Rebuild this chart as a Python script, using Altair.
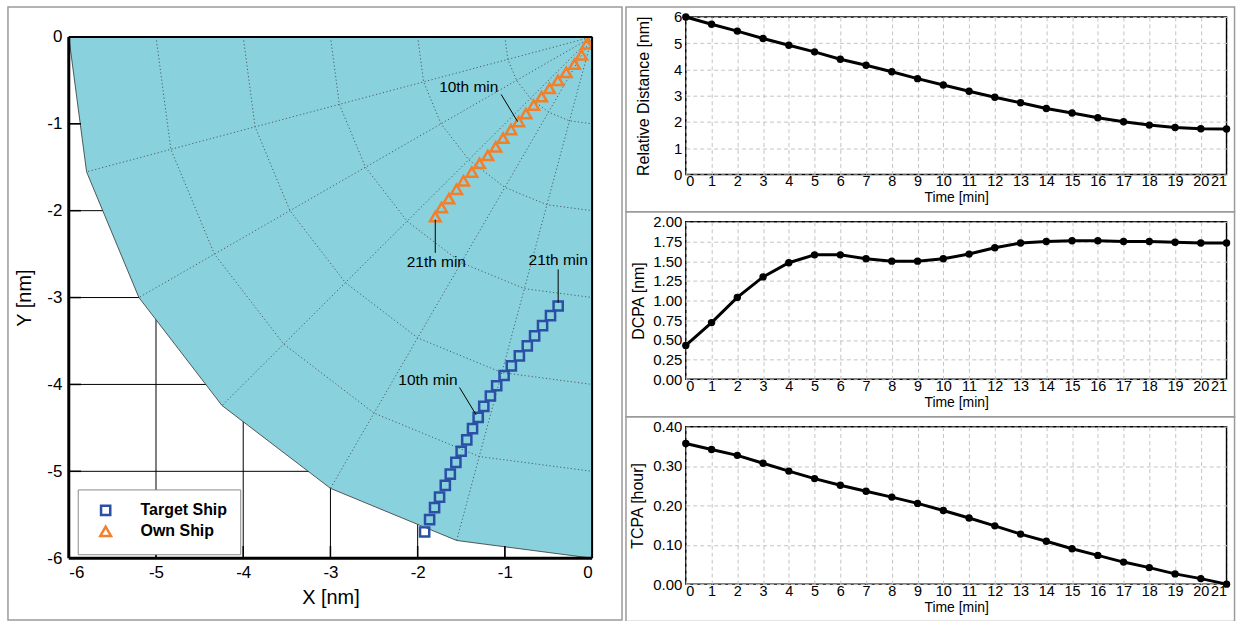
import math
import altair as alt
import pandas as pd

FONT = "Liberation Sans"

# ---------------- data ----------------
time_min = list(range(22))

target_x = [-1.920, -1.863, -1.806, -1.749, -1.683, -1.626, -1.562, -1.501, -1.437, -1.371, -1.306,
            -1.242, -1.166, -1.094, -1.009, -0.926, -0.834, -0.743, -0.659, -0.568, -0.477, -0.389]
target_y = [-5.698, -5.556, -5.418, -5.297, -5.162, -5.033, -4.898, -4.769, -4.638, -4.508, -4.379,
            -4.253, -4.133, -4.015, -3.897, -3.786, -3.671, -3.556, -3.442, -3.323, -3.209, -3.097]
own_x = [0.0, -0.061, -0.122, -0.202, -0.297, -0.392, -0.488, -0.579, -0.670, -0.758, -0.842,
         -0.930, -1.021, -1.105, -1.196, -1.291, -1.379, -1.474, -1.554, -1.642, -1.726, -1.798]
own_y = [0.0, -0.080, -0.206, -0.314, -0.409, -0.501, -0.593, -0.688, -0.784, -0.883, -0.975,
         -1.067, -1.166, -1.266, -1.365, -1.457, -1.556, -1.656, -1.755, -1.862, -1.965, -2.069]

rel_dist = [6.00, 5.72, 5.46, 5.18, 4.92, 4.67, 4.39, 4.16, 3.91, 3.65, 3.41,
            3.17, 2.94, 2.73, 2.51, 2.34, 2.16, 2.01, 1.88, 1.79, 1.74, 1.73]
dcpa = [0.43, 0.72, 1.04, 1.30, 1.48, 1.58, 1.58, 1.53, 1.50, 1.50, 1.53,
        1.59, 1.67, 1.73, 1.75, 1.76, 1.76, 1.75, 1.75, 1.74, 1.73, 1.73]
tcpa = [0.357, 0.342, 0.327, 0.307, 0.287, 0.268, 0.251, 0.236, 0.221, 0.205, 0.187,
        0.168, 0.148, 0.127, 0.109, 0.090, 0.073, 0.056, 0.042, 0.026, 0.014, 0.000]

# danger-zone boundary (polygon vertices)
boundary_x = [-6.0, -5.796, -5.196, -4.243, -3.0, -1.553, 0.0]
boundary_y = [0.0, -1.553, -3.0, -4.243, -5.196, -5.796, -6.0]

# polar mesh inside the zone
mesh_radii = [1, 2, 3, 4, 5]
mesh_angles = [180, 195, 210, 225, 240, 255, 270]
mesh_outer = 6

axis_ticks = [-6, -5, -4, -3, -2, -1, 0]
inner_ticks = [-5, -4, -3, -2, -1]

ann_text = ["10th min", "21th min", "21th min", "10th min"]
ann_x = [-1.414, -1.786, -0.389, -1.882]
ann_y = [-0.582, -2.589, -2.570, -3.950]
lead_x1 = [-1.043, -1.798, -0.389, -1.520]
lead_y1 = [-0.662, -2.103, -2.676, -4.035]
lead_x2 = [-0.854, -1.798, -0.389, -1.329]
lead_y2 = [-0.975, -2.486, -3.060, -4.351]

ship_names = ["Target Ship", "Own Ship"]
ship_colors = ["#2a4fa5", "#f47f2b"]
ship_shapes = ["square", "triangle-up"]

# ---------------- left panel ----------------
L_W, L_H = 525, 523
xs = alt.Scale(domain=[-6, 0], nice=False, zero=False)
ys = alt.Scale(domain=[-6, 0], nice=False, zero=False)
ax_x = alt.Axis(values=axis_ticks, labelExpr="'' + datum.value", title="X [nm]", grid=False,
                domain=False, ticks=False, labelFontSize=17, labelPadding=6, labelFont=FONT,
                labelColor="black", titleFont=FONT, titleFontSize=20, titleFontWeight="normal",
                titleColor="black", titleY=39.5, titleBaseline="middle")
ax_y = alt.Axis(values=axis_ticks, labelExpr="'' + datum.value", title="Y [nm]", grid=False,
                domain=False, ticks=False, labelFontSize=17, labelPadding=7, labelFont=FONT,
                labelColor="black", titleFont=FONT, titleFontSize=20, titleFontWeight="normal",
                titleColor="black", titleX=-44, titleBaseline="middle")


def X(f):
    return alt.X(f, type="quantitative", scale=xs, axis=ax_x)


def Y(f):
    return alt.Y(f, type="quantitative", scale=ys, axis=ax_y)


one_row = alt.Data(values=[{"k": 0}])

frame_left = alt.Chart(one_row).mark_rect(fill="transparent", stroke="#9a9a9a", strokeWidth=1.5).encode(
    x=alt.value(-61), x2=alt.value(555), y=alt.value(-30), y2=alt.value(585))

grid_rows = []
for v in inner_ticks:
    grid_rows.append({"x": v, "y": -6, "x2": v, "y2": 0})
    grid_rows.append({"x": -6, "y": v, "x2": 0, "y2": v})
grid_df = pd.DataFrame(grid_rows)
grid_layer = alt.Chart(grid_df).mark_rule(color="black", strokeWidth=1).encode(
    x=X("x"), y=Y("y"), x2="x2", y2="y2")

zone_df = pd.DataFrame({"x": boundary_x, "y": boundary_y})
zone_area = alt.Chart(zone_df).mark_area(color="#89d1dc", opacity=1, interpolate="linear").encode(
    x=X("x"), y=Y("y"), y2=alt.datum(0))
zone_line = alt.Chart(zone_df).mark_line(color="#333333", strokeWidth=0.8).encode(
    x=X("x"), y=Y("y"), order="x:Q")

mesh_rows = []
for a in mesh_angles[1:-1]:
    th = math.radians(a)
    mesh_rows.append({"line": f"rad{a}", "o": 0, "x": 0.0, "y": 0.0})
    mesh_rows.append({"line": f"rad{a}", "o": 1, "x": mesh_outer * math.cos(th), "y": mesh_outer * math.sin(th)})
for r in mesh_radii:
    for j, a in enumerate(mesh_angles):
        th = math.radians(a)
        mesh_rows.append({"line": f"ring{r}", "o": j, "x": r * math.cos(th), "y": r * math.sin(th)})
mesh_df = pd.DataFrame(mesh_rows)
mesh_layer = alt.Chart(mesh_df).mark_line(color="#4f5b60", strokeWidth=1, strokeDash=[1.2, 2.4]).encode(
    x=X("x"), y=Y("y"), detail="line:N", order="o:Q")

tick_rows = []
for v in inner_ticks:
    tick_rows.append({"x": -6, "y": v, "x2": -5.86, "y2": v})
    tick_rows.append({"x": v, "y": -6, "x2": v, "y2": -5.86})
tick_layer = alt.Chart(pd.DataFrame(tick_rows)).mark_rule(color="black", strokeWidth=1.5).encode(
    x=X("x"), y=Y("y"), x2="x2", y2="y2")

ships_df = pd.DataFrame({
    "x": target_x + own_x,
    "y": target_y + own_y,
    "ship": [ship_names[0]] * len(target_x) + [ship_names[1]] * len(own_x),
    "t": time_min + time_min,
})
leg = alt.Legend(orient="none", legendX=9, legendY=474, direction="vertical", title=None,
                 fillColor="white", strokeColor="#8a8a8a", padding=13, symbolOffset=7,
                 labelOffset=27, rowPadding=1, labelFontSize=16, labelFontWeight="bold",
                 labelFont=FONT, labelColor="black", symbolSize=100, symbolStrokeWidth=2.5)
ships_layer = alt.Chart(ships_df).mark_point(filled=False, strokeWidth=2.5, opacity=1, clip=True).encode(
    x=X("x"), y=Y("y"),
    color=alt.Color("ship:N", scale=alt.Scale(domain=ship_names, range=ship_colors), legend=leg),
    shape=alt.Shape("ship:N", scale=alt.Scale(domain=ship_names, range=ship_shapes), legend=leg),
    size=alt.Size("ship:N", scale=alt.Scale(domain=ship_names, range=[85, 115]), legend=None),
)

lead_df = pd.DataFrame({"x": lead_x1, "y": lead_y1, "x2": lead_x2, "y2": lead_y2})
lead_layer = alt.Chart(lead_df).mark_rule(color="black", strokeWidth=1).encode(
    x=X("x"), y=Y("y"), x2="x2", y2="y2")
ann_df = pd.DataFrame({"x": ann_x, "y": ann_y, "text": ann_text})
ann_layer = alt.Chart(ann_df).mark_text(font=FONT, fontSize=15.5, color="black", align="center",
                                        baseline="middle").encode(x=X("x"), y=Y("y"), text="text:N")

edge_thick = pd.DataFrame({"x": [-6, -6], "y": [-6, -6], "x2": [0, -6], "y2": [-6, 0]})
edge_thin = pd.DataFrame({"x": [-6, 0], "y": [0, -6], "x2": [0, 0], "y2": [0, 0]})
edge_thick_layer = alt.Chart(edge_thick).mark_rule(color="black", strokeWidth=3).encode(
    x=X("x"), y=Y("y"), x2="x2", y2="y2")
edge_thin_layer = alt.Chart(edge_thin).mark_rule(color="black", strokeWidth=2).encode(
    x=X("x"), y=Y("y"), x2="x2", y2="y2")

left = alt.layer(frame_left, grid_layer, zone_area, mesh_layer, zone_line, tick_layer, ships_layer,
                 lead_layer, ann_layer, edge_thin_layer, edge_thick_layer).properties(
    width=L_W, height=L_H, view=alt.ViewBackground(stroke="transparent"))

# empty spacer that pushes the left plot 20 px below the first right-hand panel
spacer = alt.Chart(one_row).mark_point(opacity=0).encode(
    x=alt.value(0), y=alt.value(0)).properties(
    width=L_W, height=1, view=alt.ViewBackground(stroke="transparent"))
left_col = alt.vconcat(spacer, left, spacing=19, bounds="flush")

# ---------------- right panels ----------------
R_W, R_H = 542.5, 158


def panel(values, ytitle, domain, yticks, fmt, title_x):
    df = pd.DataFrame({"t": time_min, "v": values})
    xenc = alt.X("t:Q", scale=alt.Scale(domain=[0, 21], nice=False, zero=False),
                 axis=alt.Axis(values=time_min, format="d", title="Time [min]", titleY=23,
                               titleBaseline="middle", labelPadding=0, labelFontSize=14.5))
    yenc = alt.Y("v:Q", scale=alt.Scale(domain=domain, nice=False, zero=False),
                 axis=alt.Axis(values=yticks, format=fmt, title=ytitle, titleX=title_x,
                               titleBaseline="middle", labelPadding=4, labelFontSize=15))
    frame = alt.Chart(one_row).mark_rect(fill="transparent", stroke="#9a9a9a", strokeWidth=1.5).encode(
        x=alt.value(-60), x2=alt.value(550.5), y=alt.value(-10), y2=alt.value(195.5))
    base = alt.Chart(df).encode(x=xenc, y=yenc)
    line = base.mark_line(color="black", strokeWidth=3)
    pts = base.mark_circle(color="black", size=55, opacity=1)
    return alt.layer(frame, line, pts).properties(width=R_W, height=R_H)


p1 = panel(rel_dist, "Relative Distance [nm]", [0, 6], [0, 1, 2, 3, 4, 5, 6], "d", -42.5)
p2 = panel(dcpa, "DCPA [nm]", [0, 2], [0, 0.25, 0.5, 0.75, 1.0, 1.25, 1.5, 1.75, 2.0], ".2f", -47.5)
p3 = panel(tcpa, "TCPA [hour]", [0, 0.4], [0, 0.1, 0.2, 0.3, 0.4], ".2f", -48.5)

right = alt.vconcat(p1, p2, p3, spacing=47.5, bounds="flush")

chart = alt.hconcat(left_col, right, spacing=0).properties(
    padding={"left": 6, "top": 4, "right": 10, "bottom": 0},
    background="white",
).configure_view(stroke="black", strokeWidth=1.5).configure_axis(
    labelFont=FONT, titleFont=FONT, labelFontSize=14, titleFontSize=16, titleFontWeight="normal",
    labelColor="black", titleColor="black", tickSize=0, domain=False, gridDash=[4, 3],
    gridColor="#c4c4c4", gridWidth=1,
).configure_axisX(titleFontSize=14)

chart.save("out.html", embed_options={"renderer": "svg", "actions": False})
